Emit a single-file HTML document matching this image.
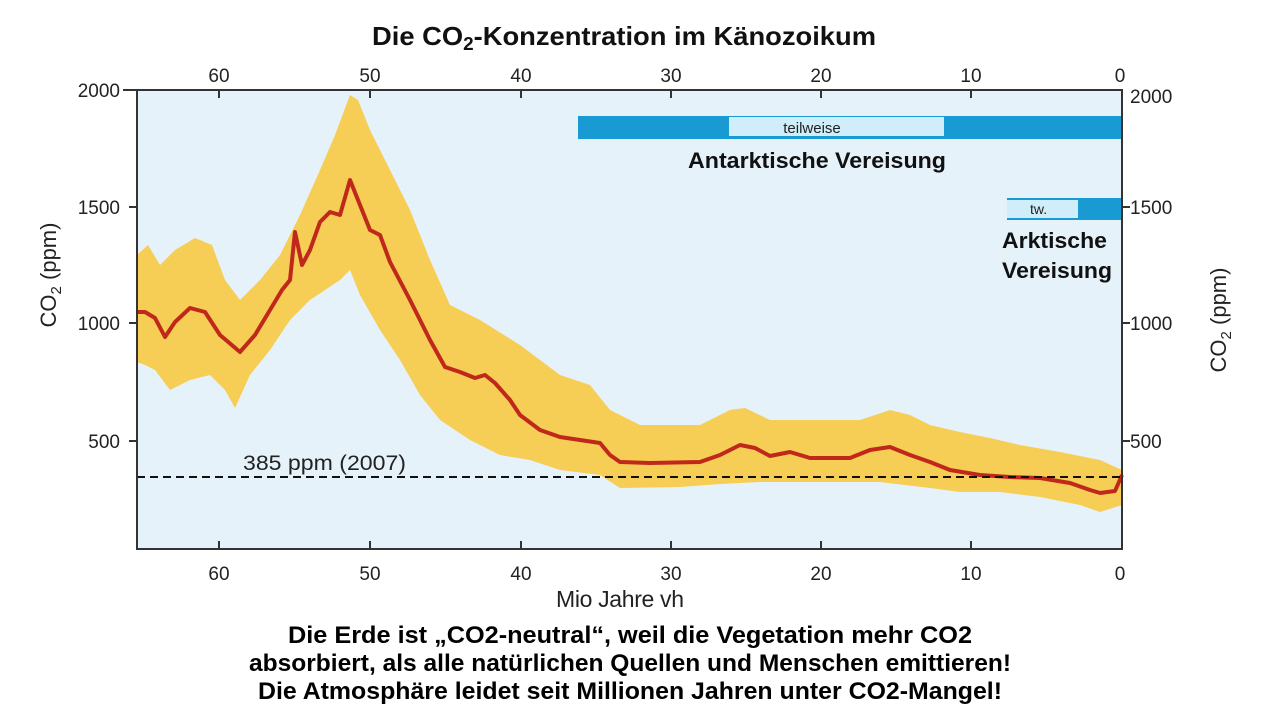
<!DOCTYPE html>
<html><head><meta charset="utf-8"><style>
body{margin:0;background:#fff;width:1280px;height:720px;overflow:hidden}
svg{display:block}
text{font-family:"Liberation Sans",sans-serif}
</style></head><body>
<svg width="1280" height="720" viewBox="0 0 1280 720">
<rect x="137" y="90" width="985" height="459" fill="#e6f2fa"/>
<path fill="#f6cd55" d="M137,255 L148,245 L160,265 L175,250 L195,238 L212,245 L225,280 L240,300 L260,280 L280,255 L300,215 L320,170 L335,135 L350,95 L358,100 L370,130 L390,170 L410,210 L430,260 L450,305 L480,320 L520,345 L560,375 L590,385 L610,410 L640,425 L700,425 L730,410 L745,408 L770,420 L830,420 L860,420 L890,410 L910,415 L930,425 L960,432 L990,438 L1020,445 L1060,452 L1100,460 L1122,470 L1122,505 L1100,512 L1080,505 L1040,497 L1000,492 L960,492 L930,488 L880,482 L820,482 L760,482 L720,484 L680,487 L620,488 L600,475 L560,470 L530,460 L500,455 L470,440 L440,420 L420,395 L400,360 L380,330 L360,295 L350,270 L340,280 L310,300 L290,320 L270,350 L250,375 L235,408 L225,390 L210,375 L190,380 L170,390 L155,370 L145,365 L137,362 Z"/>
<polyline fill="none" stroke="#c0281c" stroke-width="4" stroke-linejoin="round" points="137,312 145,312 155,318 165,337 175,322 190,308 205,312 220,335 240,352 255,335 270,310 282,290 290,280 295,232 302,265 310,250 320,222 330,212 340,215 350,180 358,200 370,230 380,235 390,262 410,300 430,340 445,367 460,372 475,378 485,375 495,383 510,400 520,415 540,430 560,437 580,440 600,443 610,455 620,462 650,463 700,462 720,455 740,445 755,448 770,456 790,452 810,458 850,458 870,450 890,447 910,455 930,462 950,470 980,475 1010,477 1040,478 1070,483 1090,490 1100,493 1115,491 1122,475"/>
<line x1="137" y1="477" x2="1122" y2="477" stroke="#111" stroke-width="2" stroke-dasharray="8,5"/>
<text x="243" y="470" font-size="21" fill="#222" textLength="163" lengthAdjust="spacingAndGlyphs">385 ppm (2007)</text>
<rect x="578" y="116" width="544" height="23" fill="#1a9ad2"/>
<rect x="729" y="117" width="215" height="19" fill="#cfeefa"/>
<text x="812" y="133" font-size="15" fill="#222" text-anchor="middle">teilweise</text>
<text x="688" y="168" font-size="22" font-weight="bold" fill="#111" textLength="258" lengthAdjust="spacingAndGlyphs">Antarktische Vereisung</text>
<rect x="1007" y="198" width="115" height="22" fill="#1a9ad2"/>
<rect x="1007" y="200" width="71" height="18" fill="#cfeefa"/>
<text x="1030" y="214" font-size="14" fill="#222">tw.</text>
<text x="1002" y="248" font-size="22" font-weight="bold" fill="#111" textLength="105" lengthAdjust="spacingAndGlyphs">Arktische</text>
<text x="1002" y="278" font-size="22" font-weight="bold" fill="#111" textLength="110" lengthAdjust="spacingAndGlyphs">Vereisung</text>
<g stroke="#333" stroke-width="2" fill="none">
<rect x="137" y="90" width="985" height="459"/>
</g>
<g stroke="#333" stroke-width="2">
<line x1="219" y1="549" x2="219" y2="541"/><line x1="370" y1="549" x2="370" y2="541"/><line x1="521" y1="549" x2="521" y2="541"/><line x1="671" y1="549" x2="671" y2="541"/><line x1="821" y1="549" x2="821" y2="541"/><line x1="971" y1="549" x2="971" y2="541"/>
<line x1="219" y1="90" x2="219" y2="98"/><line x1="370" y1="90" x2="370" y2="98"/><line x1="521" y1="90" x2="521" y2="98"/><line x1="671" y1="90" x2="671" y2="98"/><line x1="821" y1="90" x2="821" y2="98"/><line x1="971" y1="90" x2="971" y2="98"/>
<line x1="123" y1="90" x2="137" y2="90"/><line x1="129" y1="207" x2="137" y2="207"/><line x1="129" y1="323" x2="137" y2="323"/><line x1="129" y1="441" x2="137" y2="441"/>
<line x1="1122" y1="207" x2="1130" y2="207"/><line x1="1122" y1="323" x2="1130" y2="323"/><line x1="1122" y1="441" x2="1130" y2="441"/>
</g>
<g font-size="19" fill="#222" text-anchor="middle">
<text x="219" y="580">60</text><text x="370" y="580">50</text><text x="521" y="580">40</text><text x="671" y="580">30</text><text x="821" y="580">20</text><text x="971" y="580">10</text><text x="1120" y="580">0</text>
<text x="219" y="82">60</text><text x="370" y="82">50</text><text x="521" y="82">40</text><text x="671" y="82">30</text><text x="821" y="82">20</text><text x="971" y="82">10</text><text x="1120" y="82">0</text>
</g>
<g font-size="19" fill="#222" text-anchor="end">
<text x="120" y="97">2000</text><text x="120" y="214">1500</text><text x="120" y="330">1000</text><text x="120" y="448">500</text>
</g>
<g font-size="19" fill="#222">
<text x="1130" y="103">2000</text><text x="1130" y="214">1500</text><text x="1130" y="330">1000</text><text x="1130" y="448">500</text>
</g>
<text transform="translate(56,275) rotate(-90)" font-size="22" fill="#222" text-anchor="middle">CO<tspan font-size="15" dy="5">2</tspan><tspan dy="-5"> (ppm)</tspan></text>
<text transform="translate(1226,320) rotate(-90)" font-size="22" fill="#222" text-anchor="middle">CO<tspan font-size="15" dy="5">2</tspan><tspan dy="-5"> (ppm)</tspan></text>
<text x="556" y="607" font-size="23" fill="#222" textLength="128">Mio Jahre vh</text>
<text x="372" y="45" font-size="26" font-weight="bold" fill="#111" textLength="504" lengthAdjust="spacingAndGlyphs">Die CO<tspan font-size="18" dy="5">2</tspan><tspan dy="-5">-Konzentration im Känozoikum</tspan></text>
<g font-size="24" font-weight="bold" fill="#000">
<text x="288" y="643" textLength="684" lengthAdjust="spacingAndGlyphs">Die Erde ist „CO2-neutral“, weil die Vegetation mehr CO2</text>
<text x="249" y="671" textLength="762" lengthAdjust="spacingAndGlyphs">absorbiert, als alle natürlichen Quellen und Menschen emittieren!</text>
<text x="258" y="699" textLength="744" lengthAdjust="spacingAndGlyphs">Die Atmosphäre leidet seit Millionen Jahren unter CO2-Mangel!</text>
</g>
</svg>
</body></html>
